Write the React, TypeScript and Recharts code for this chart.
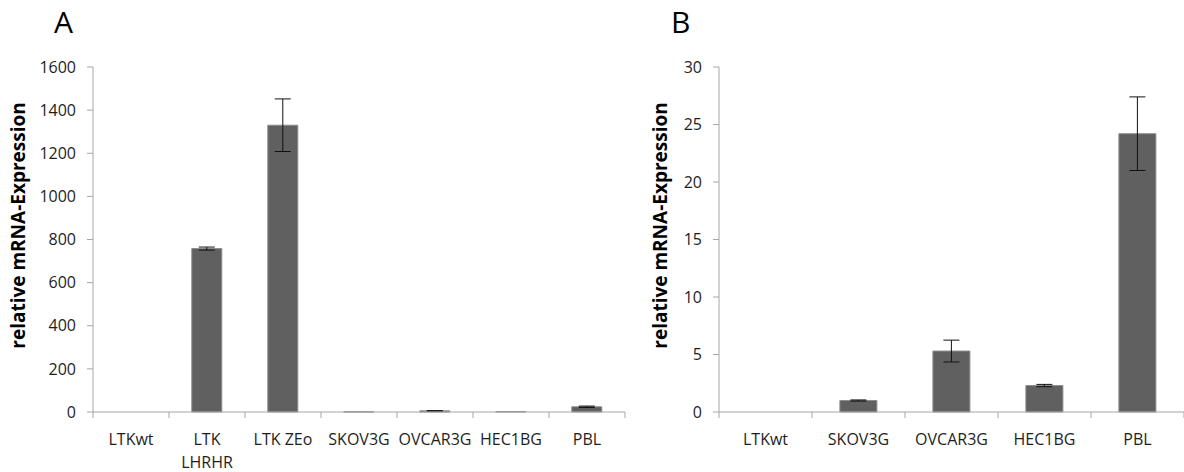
import React from 'react';
import { BarChart, Bar, XAxis, YAxis, ErrorBar, Text } from 'recharts';

// panel A
const panelACategories = ['LTKwt', 'LTK LHRHR', 'LTK ZEo', 'SKOV3G', 'OVCAR3G', 'HEC1BG', 'PBL'];
const panelAValues = [0, 758, 1330, 1, 5.3, 2.3, 24.2];
const panelAErrors = [null, 7, 122, null, 0.95, null, 3.2];
const panelATicks = [0, 200, 400, 600, 800, 1000, 1200, 1400, 1600];

// panel B
const panelBCategories = ['LTKwt', 'SKOV3G', 'OVCAR3G', 'HEC1BG', 'PBL'];
const panelBValues = [0, 1, 5.3, 2.3, 24.2];
const panelBErrors = [null, 0.05, 0.95, 0.1, 3.2];
const panelBTicks = [0, 5, 10, 15, 20, 25, 30];

const yTitle = 'relative mRNA-Expression';

const FONT = '"Open Sans", sans-serif';
const AXIS_GREY = '#a6a6a6';
const TEXT = '#1e1e1e';

function CategoryTick(props: any) {
  const { x, y, payload, width, visibleTicksCount, index } = props;
  const bw = width / visibleTicksCount;
  return (
    <g>
      <line x1={x - bw / 2} x2={x - bw / 2} y1={y} y2={y + 6} stroke={AXIS_GREY} />
      {index === visibleTicksCount - 1 && (
        <line x1={x + bw / 2} x2={x + bw / 2} y1={y} y2={y + 6} stroke={AXIS_GREY} />
      )}
      <Text
        x={x}
        y={y + 22}
        width={bw}
        textAnchor="middle"
        verticalAnchor="start"
        lineHeight="1.4em"
        fontSize={16}
        fontFamily={FONT}
        fill={TEXT}
      >
        {payload.value}
      </Text>
    </g>
  );
}

function YTitle(props: any) {
  const { viewBox, left } = props;
  const cx = viewBox.x + left;
  const cy = viewBox.y + viewBox.height / 2 - 14;
  return (
    <text
      x={cx}
      y={cy}
      transform={`rotate(-90, ${cx}, ${cy})`}
      textAnchor="middle"
      dominantBaseline="central"
      fontSize={19}
      fontWeight={700}
      fontFamily={FONT}
      fill="#000"
    >
      {yTitle}
    </text>
  );
}

function Panel({ categories, values, errors, ticks, width, yAxisWidth, right, titleLeft }: any) {
  const data = categories.map((c: string, i: number) => ({ name: c, value: values[i], err: errors[i] }));
  const max = ticks[ticks.length - 1];
  return (
    <BarChart
      width={width}
      height={472}
      data={data}
      margin={{ top: 67, right, left: 0, bottom: 0 }}
      barCategoryGap="30%"
    >
      <XAxis
        dataKey="name"
        height={60}
        interval={0}
        tickLine={false}
        tickSize={0}
        tickMargin={0}
        axisLine={{ stroke: AXIS_GREY }}
        tick={<CategoryTick />}
      />
      <YAxis
        width={yAxisWidth}
        domain={[0, max]}
        ticks={ticks}
        interval={0}
        tickSize={6}
        tickMargin={11}
        axisLine={{ stroke: AXIS_GREY }}
        tickLine={{ stroke: AXIS_GREY }}
        tick={{ fontSize: 16, fontFamily: FONT, fill: TEXT }}
        label={<YTitle left={titleLeft} />}
      />
      <Bar dataKey="value" fill="#606060" stroke="#8c8c8c" strokeWidth={1} isAnimationActive={false}>
        <ErrorBar dataKey="err" width={8} stroke="#111" strokeWidth={1} />
      </Bar>
    </BarChart>
  );
}

export default function App() {
  return (
    <div
      style={{
        position: 'absolute',
        left: 0,
        top: 0,
        width: 1184,
        height: 472,
        background: '#fff',
        fontFamily: FONT,
      }}
    >
      <div style={{ position: 'absolute', left: 54, top: 2, fontSize: 30, lineHeight: '40px', color: '#000' }}>A</div>
      <div style={{ position: 'absolute', left: 671, top: 2, fontSize: 30, lineHeight: '40px', color: '#000' }}>B</div>
      <div style={{ position: 'absolute', left: 0, top: 0 }}>
        <Panel
          categories={panelACategories}
          values={panelAValues}
          errors={panelAErrors}
          ticks={panelATicks}
          width={640}
          yAxisWidth={93}
          right={15}
          titleLeft={18}
        />
      </div>
      <div style={{ position: 'absolute', left: 640, top: 0 }}>
        <Panel
          categories={panelBCategories}
          values={panelBValues}
          errors={panelBErrors}
          ticks={panelBTicks}
          width={544}
          yAxisWidth={79}
          right={0}
          titleLeft={20}
        />
      </div>
    </div>
  );
}
